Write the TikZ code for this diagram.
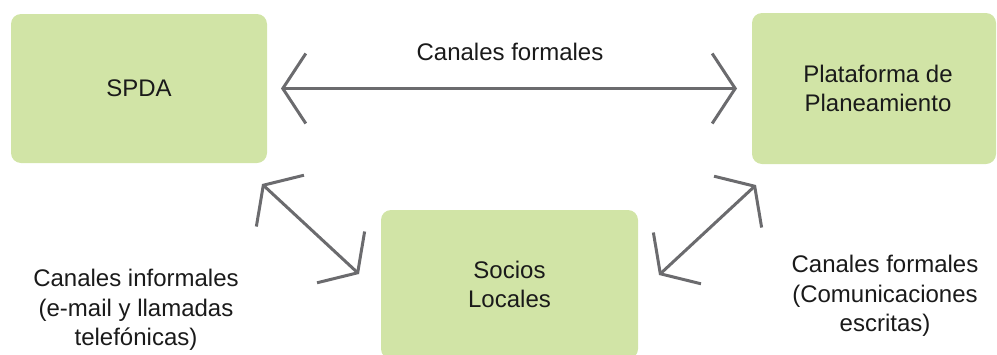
\documentclass[tikz,border=0pt]{standalone}
\usepackage{fontspec}
\setmainfont{Liberation Sans}
\usepackage{xcolor}
\usepackage{tikz}
\usetikzlibrary{arrows.meta}

\definecolor{boxgreen}{HTML}{D1E4A6}
\definecolor{arrowgray}{HTML}{6B6B6E}
\definecolor{textblack}{HTML}{1A1A1A}

\begin{document}
\begin{tikzpicture}[x=1pt,y=-1pt,>={Straight Barb[length=23pt,width=70pt]},thick,
  font=\fontsize{24}{29.5}\selectfont,text=textblack,
  main node/.style={rectangle,rounded corners=10pt,fill=boxgreen,inner sep=0pt,outer sep=0pt,
    minimum width=256pt,minimum height=149pt,align=center},
  label node/.style={align=center,inner sep=0pt},
  link/.style={<->,draw=arrowgray,line width=3pt}]
  \clip (0,0) rectangle (997,354);

  \node[main node] (spda) at (139,88.5) {SPDA};
  \node[main node,minimum width=244pt,minimum height=151pt] (plat) at (874,88.5) {\hspace*{8pt}Plataforma de\\\hspace*{8pt}Planeamiento};
  \node[main node,minimum width=257pt] (socios) at (509.5,284.5) {Socios\\Locales};

  \node[label node] (formal) at (510,52) {Canales formales};
  \node[label node] (informal) at (136,310) {Canales informales\\(e-mail y llamadas\\telefónicas)};
  \node[label node] (escrito) at (885,296) {Canales formales\\(Comunicaciones\\escritas)};

  \coordinate (a1) at (262,184);
  \coordinate (a2) at (359,274);
  \coordinate (b1) at (756,185);
  \coordinate (b2) at (659,275);

  \draw[link,shorten <=14pt,shorten >=15pt] (spda.east) -- (plat.west);
  \draw[link] (a1) -- (a2);
  \draw[link] (b1) -- (b2);
\end{tikzpicture}
\end{document}
